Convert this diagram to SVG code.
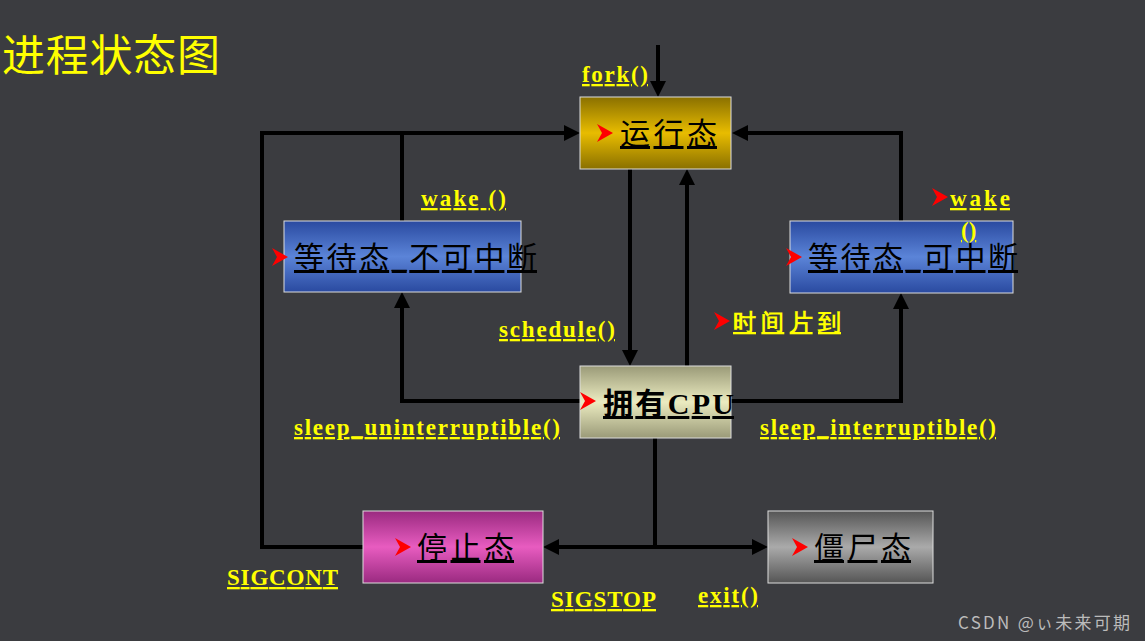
<svg xmlns="http://www.w3.org/2000/svg" width="1145" height="641" viewBox="0 0 1145 641">
<style>
.lbl{font-family:"Liberation Serif",serif;font-weight:bold;font-size:23px;fill:#ffff00;text-decoration:underline}
.nt{font-family:"Liberation Serif","Noto Sans CJK SC",serif;font-size:30px;fill:#000;text-decoration:underline}
.ln{stroke:#000;stroke-width:4;fill:none}
.box{stroke:#ddd;stroke-width:1}
.bul{fill:#ff0000}
</style>
<defs>
<marker id="ah" markerWidth="4" markerHeight="4" refX="3" refY="2" orient="auto"><path d="M0,0L4,2L0,4Z" fill="#000"/></marker>
<linearGradient id="gold" x1="0" y1="0" x2="0" y2="1"><stop offset="0" stop-color="#8a7000"/><stop offset="0.5" stop-color="#e8bc00"/><stop offset="1" stop-color="#8a7000"/></linearGradient>
<linearGradient id="blue" x1="0" y1="0" x2="0" y2="1"><stop offset="0" stop-color="#2a4aa0"/><stop offset="0.5" stop-color="#5b84d8"/><stop offset="1" stop-color="#2a4aa0"/></linearGradient>
<linearGradient id="khaki" x1="0" y1="0" x2="0" y2="1"><stop offset="0" stop-color="#9a9a78"/><stop offset="0.5" stop-color="#ebebc0"/><stop offset="1" stop-color="#9a9a78"/></linearGradient>
<linearGradient id="pink" x1="0" y1="0" x2="0" y2="1"><stop offset="0" stop-color="#9a2a80"/><stop offset="0.5" stop-color="#e85cc0"/><stop offset="1" stop-color="#9a2a80"/></linearGradient>
<linearGradient id="gray" x1="0" y1="0" x2="0" y2="1"><stop offset="0" stop-color="#555"/><stop offset="0.5" stop-color="#aaa"/><stop offset="1" stop-color="#555"/></linearGradient>
<path id="bu" d="M0,-9L16,0L0,9L5,0Z"/>
</defs>
<rect width="1145" height="641" fill="#3b3c40"/>
<text x="2" y="71" font-family="Noto Sans CJK SC,sans-serif" font-size="43" fill="#ffff00" textLength="218">进程状态图</text>
<g id="connectors">
<path class="ln" d="M658,45V93" marker-end="url(#ah)"/>
<path class="ln" d="M630,169V362" marker-end="url(#ah)"/>
<path class="ln" d="M687,366V173" marker-end="url(#ah)"/>
<path class="ln" d="M402,221V133H576" marker-end="url(#ah)"/>
<path class="ln" d="M363,547H262V133H402"/>
<path class="ln" d="M901,221V133H736" marker-end="url(#ah)"/>
<path class="ln" d="M580,401H402V296" marker-end="url(#ah)"/>
<path class="ln" d="M731,401H901V297" marker-end="url(#ah)"/>
<path class="ln" d="M655,438V547H547" marker-end="url(#ah)"/>
<path class="ln" d="M655,547H764" marker-end="url(#ah)"/>
</g>
<g id="running"><rect class="box" x="580" y="97" width="151" height="72" fill="url(#gold)"/><use href="#bu" x="597" y="133" class="bul"/><text class="nt" x="620" y="144" textLength="97">运行态</text></g>
<g id="wait-un"><rect class="box" x="284" y="221" width="237" height="71" fill="url(#blue)"/><use href="#bu" x="272" y="257" class="bul"/><text class="nt" x="294" y="268" textLength="243">等待态_不可中断</text></g>
<g id="wait-in"><rect class="box" x="790" y="221" width="223" height="72" fill="url(#blue)"/><use href="#bu" x="786" y="257" class="bul"/><text class="nt" x="808" y="268" textLength="210">等待态_可中断</text></g>
<g id="cpu"><rect class="box" x="580" y="366" width="151" height="72" fill="url(#khaki)"/><use href="#bu" x="580" y="401" class="bul"/><text class="nt" x="603" y="414" font-weight="bold" textLength="131">拥有CPU</text></g>
<g id="stop"><rect class="box" x="363" y="511" width="180" height="72" fill="url(#pink)"/><use href="#bu" x="395" y="547" class="bul"/><text class="nt" x="417" y="558" textLength="97">停止态</text></g>
<g id="zombie"><rect class="box" x="768" y="511" width="165" height="72" fill="url(#gray)"/><use href="#bu" x="792" y="547" class="bul"/><text class="nt" x="814" y="558" textLength="97">僵尸态</text></g>
<g id="labels">
<text class="lbl" x="582" y="82" textLength="66">fork()</text>
<text class="lbl" x="421" y="206" textLength="85">wake ()</text>
<use href="#bu" x="932" y="197" class="bul"/>
<text class="lbl" x="950" y="206" textLength="60">wake</text>
<text class="lbl" x="961" y="238">()</text>
<text class="lbl" x="499" y="337" textLength="116">schedule()</text>
<use href="#bu" x="714" y="321" class="bul"/>
<text class="lbl" x="733" y="330" font-family="Noto Sans CJK SC,sans-serif" textLength="108">时间片到</text>
<text class="lbl" x="294" y="435" textLength="266">sleep_uninterruptible()</text>
<text class="lbl" x="760" y="435" textLength="236">sleep_interruptible()</text>
<text class="lbl" x="227" y="585" textLength="111">SIGCONT</text>
<text class="lbl" x="551" y="607" textLength="105">SIGSTOP</text>
<text class="lbl" x="698" y="603" textLength="60">exit()</text>
</g>
<text x="958" y="629" font-family="Noto Sans CJK SC,sans-serif" font-size="17" fill="#bbb" textLength="172">CSDN @ぃ未来可期</text>
</svg>
